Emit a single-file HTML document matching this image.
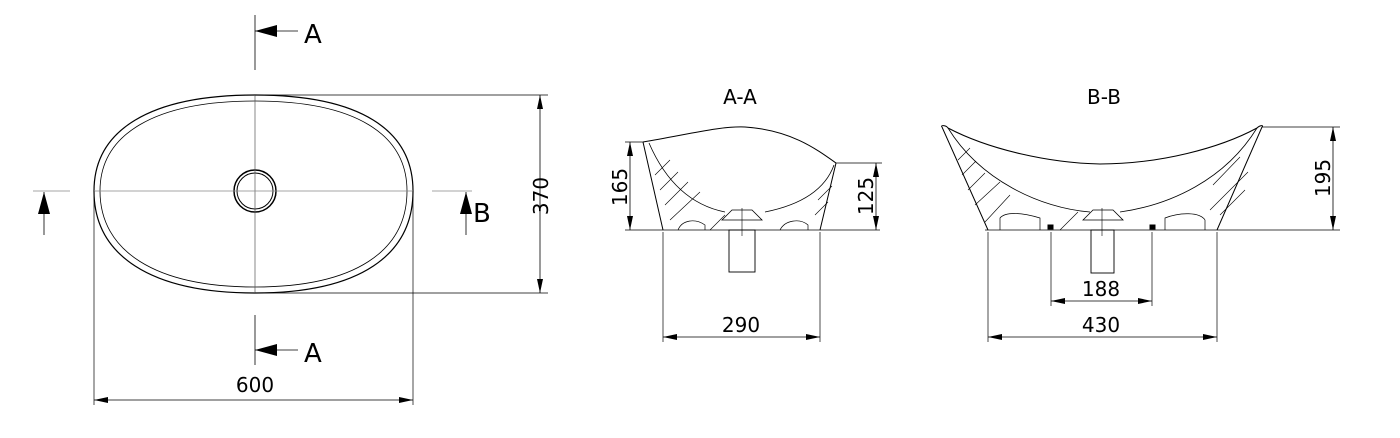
<!DOCTYPE html>
<html><head><style>
html,body{margin:0;padding:0;background:#fff;}
svg{display:block}
text{font-family:"DejaVu Sans","Liberation Sans",sans-serif;fill:#000}
</style></head><body>
<svg width="1400" height="438" viewBox="0 0 1400 438" xmlns="http://www.w3.org/2000/svg">
<defs>
<marker id="ar" viewBox="0 0 14 6" refX="14" refY="3" markerWidth="14" markerHeight="6" orient="auto-start-reverse" markerUnits="userSpaceOnUse"><path d="M0,0 L14,3 L0,6 z" fill="#000"/></marker>
<marker id="big" viewBox="0 0 22 12" refX="22" refY="6" markerWidth="22" markerHeight="12" orient="auto" markerUnits="userSpaceOnUse"><path d="M0,0 L22,6 L0,12 z" fill="#000"/></marker>
</defs>
<g fill="none" stroke="#000" stroke-width="1">
<!-- plan view -->
<path d="M255,95 C360,95 413,130 413,191 C413,255 360,293 255,293 C150,293 94,255 94,191 C94,130 150,95 255,95 Z" stroke-width="1.2"/>
<path d="M255,101 C355,101 407,134 407,191 C407,251 355,287 255,287 C155,287 100,251 100,191 C100,134 155,101 255,101 Z" stroke-width="0.8"/>
<circle cx="255" cy="191" r="21" stroke-width="1.5"/>
<circle cx="255" cy="191" r="18" stroke-width="1"/>
<line x1="255" y1="95" x2="255" y2="293" stroke="#555" stroke-width="0.7"/>
<line x1="94" y1="191" x2="413" y2="191" stroke="#888" stroke-width="0.7"/>
<!-- section markers -->
<line x1="255" y1="15" x2="255" y2="70" stroke-width="0.8"/>
<line x1="298" y1="31" x2="255" y2="31" marker-end="url(#big)" stroke-width="0.8"/>
<line x1="255" y1="315" x2="255" y2="365" stroke-width="0.8"/>
<line x1="298" y1="350" x2="255" y2="350" marker-end="url(#big)" stroke-width="0.8"/>
<line x1="33" y1="191" x2="70" y2="191" stroke="#888" stroke-width="0.8"/>
<line x1="44" y1="235" x2="44" y2="192" marker-end="url(#big)" stroke-width="0.8"/>
<line x1="432" y1="191" x2="472" y2="191" stroke="#888" stroke-width="0.8"/>
<line x1="466" y1="235" x2="466" y2="192" marker-end="url(#big)" stroke-width="0.8"/>
<!-- plan dims -->
<line x1="255" y1="95" x2="548" y2="95" stroke-width="0.7"/>
<line x1="255" y1="293" x2="548" y2="293" stroke-width="0.7"/>
<line x1="540" y1="95" x2="540" y2="293" marker-start="url(#ar)" marker-end="url(#ar)" stroke-width="0.8"/>
<line x1="94" y1="191" x2="94" y2="405" stroke-width="0.7"/>
<line x1="413" y1="191" x2="413" y2="405" stroke-width="0.7"/>
<line x1="94" y1="400" x2="413" y2="400" marker-start="url(#ar)" marker-end="url(#ar)" stroke-width="0.8"/>

<!-- A-A section -->
<path d="M643,142 C690,134 720,126 745,127 C790,130 815,148 836,163" stroke-width="1"/>
<path d="M643,142 L663,230 M836,163 L820,230" stroke-width="1"/>
<path d="M649,143 C665,180 690,205 725,212 M765,212 C800,205 825,190 834,165" stroke-width="0.8"/>
<line x1="625" y1="230" x2="880" y2="230" stroke-width="0.8"/>
<path d="M678,230 C682,220 695,218 705,225 L705,230 M780,230 C785,220 800,218 808,225 L808,230" stroke-width="0.7"/>
<path d="M655,175 L670,160 M660,190 L678,172 M665,205 L688,182 M670,220 L700,192 M710,230 L725,215 M818,200 L832,186 M815,215 L828,202" stroke-width="0.6"/>
<path d="M722,220 L732,210 L752,210 L762,220 Z" stroke-width="0.8"/>
<rect x="729" y="230" width="26" height="42" stroke-width="0.9"/>
<line x1="742" y1="208" x2="742" y2="236" stroke-width="0.6"/>
<line x1="643" y1="142" x2="625" y2="142" stroke-width="0.7"/>
<line x1="630" y1="142" x2="630" y2="230" marker-start="url(#ar)" marker-end="url(#ar)" stroke-width="0.8"/>
<line x1="836" y1="163" x2="882" y2="163" stroke-width="0.7"/>
<line x1="876" y1="163" x2="876" y2="230" marker-start="url(#ar)" marker-end="url(#ar)" stroke-width="0.8"/>
<line x1="663" y1="232" x2="663" y2="342" stroke-width="0.7"/>
<line x1="820" y1="232" x2="820" y2="342" stroke-width="0.7"/>
<line x1="663" y1="337" x2="820" y2="337" marker-start="url(#ar)" marker-end="url(#ar)" stroke-width="0.8"/>

<!-- B-B section -->
<path d="M942,127 L988,230 M1262,127 L1217,230" stroke-width="1"/>
<path d="M942,127 C940,125 946,125 948,128 C990,150 1050,163 1100,164 C1160,164 1220,148 1257,128 C1260,125 1264,125 1262,127" stroke-width="1"/>
<path d="M948,128 C980,180 1040,208 1090,212 M1120,212 C1170,205 1225,180 1257,128" stroke-width="0.8"/>
<line x1="985" y1="230" x2="1340" y2="230" stroke-width="0.8"/>
<path d="M1000,230 L1000,218 C1005,212 1020,212 1040,218 L1040,230 M1165,230 L1165,218 C1180,212 1200,212 1205,220 L1205,230" stroke-width="0.7"/>
<path d="M958,160 L970,148 M962,175 L976,161 M968,190 L985,173 M975,205 L1000,182 M985,222 L1010,195 M1060,230 L1078,212 M1213,185 L1240,157 M1210,210 L1248,172 M1220,215 L1245,190" stroke-width="0.6"/>
<rect x="1048" y="225" width="5" height="4" fill="#000"/>
<rect x="1150" y="225" width="5" height="4" fill="#000"/>
<path d="M1083,220 L1093,210 L1113,210 L1123,220 Z" stroke-width="0.8"/>
<rect x="1091" y="230" width="23" height="43" stroke-width="0.9"/>
<line x1="1102" y1="208" x2="1102" y2="236" stroke-width="0.6"/>
<line x1="1262" y1="127" x2="1340" y2="127" stroke-width="0.7"/>
<line x1="1333" y1="127" x2="1333" y2="230" marker-start="url(#ar)" marker-end="url(#ar)" stroke-width="0.8"/>
<line x1="1051" y1="232" x2="1051" y2="306" stroke-width="0.7"/>
<line x1="1152" y1="232" x2="1152" y2="306" stroke-width="0.7"/>
<line x1="1051" y1="301" x2="1152" y2="301" marker-start="url(#ar)" marker-end="url(#ar)" stroke-width="0.8"/>
<line x1="988" y1="232" x2="988" y2="342" stroke-width="0.7"/>
<line x1="1217" y1="232" x2="1217" y2="342" stroke-width="0.7"/>
<line x1="988" y1="337" x2="1217" y2="337" marker-start="url(#ar)" marker-end="url(#ar)" stroke-width="0.8"/>
</g>
<g font-size="26">
<text x="304" y="43">A</text>
<text x="304" y="362">A</text>
<text x="473" y="222">B</text>
<text x="255" y="392" text-anchor="middle" font-size="20">600</text>
<text transform="translate(548,196) rotate(-90)" text-anchor="middle" font-size="20">370</text>
<text x="740" y="104" text-anchor="middle" font-size="20">A-A</text>
<text x="1104" y="104" text-anchor="middle" font-size="20">B-B</text>
<text transform="translate(627,187) rotate(-90)" text-anchor="middle" font-size="20">165</text>
<text transform="translate(873,196) rotate(-90)" text-anchor="middle" font-size="20">125</text>
<text transform="translate(1330,178) rotate(-90)" text-anchor="middle" font-size="20">195</text>
<text x="741" y="332" text-anchor="middle" font-size="20">290</text>
<text x="1101" y="296" text-anchor="middle" font-size="20">188</text>
<text x="1101" y="332" text-anchor="middle" font-size="20">430</text>
</g>
</svg>
</body></html>
